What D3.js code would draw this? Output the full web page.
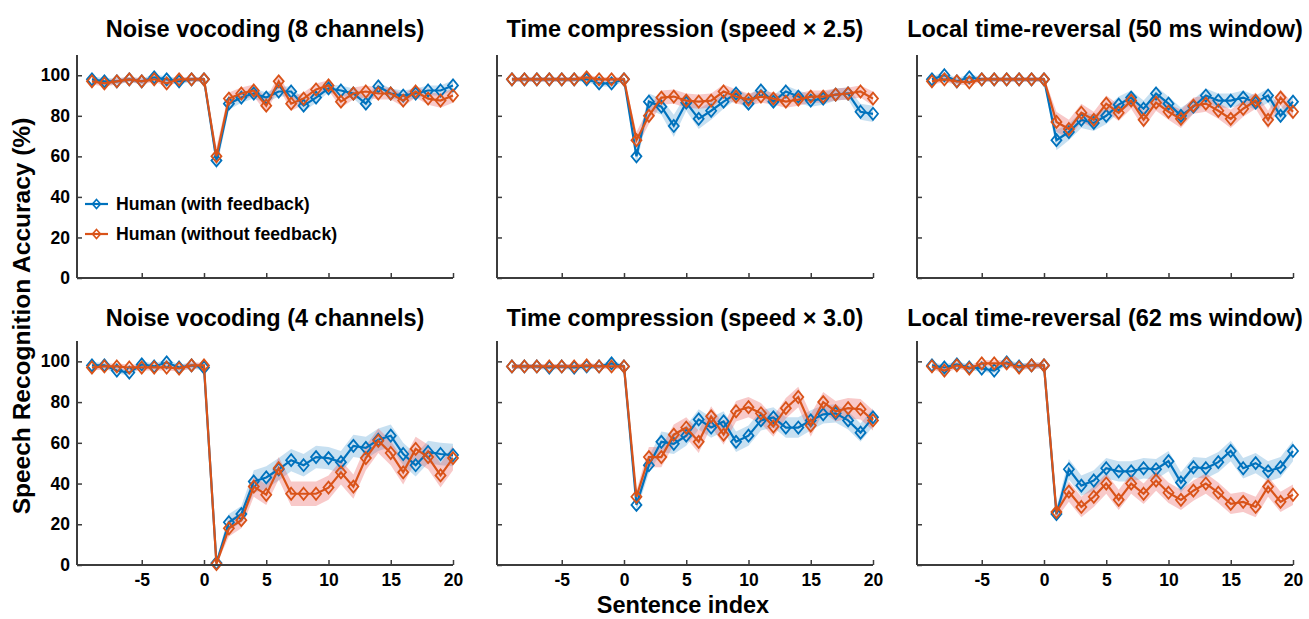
<!DOCTYPE html>
<html>
<head>
<meta charset="utf-8">
<script src="https://cdn.jsdelivr.net/npm/d3@7"></script>
<style>
  body { margin: 0; background: #fff; }
  text { font-family: "Liberation Sans", Arial, sans-serif; font-weight: bold; fill: #000; }
</style>
</head>
<body>
<svg id="chart" width="1309" height="619"></svg>
<script>
// sentence index (x)
var sentenceIdx = [-9,-8,-7,-6,-5,-4,-3,-2,-1,0,1,2,3,4,5,6,7,8,9,10,11,12,13,14,15,16,17,18,19,20];
var xTicks = [-5, 0, 5, 10, 15, 20];
var yTicks = [0, 20, 40, 60, 80, 100];
var titles = [
    "Noise vocoding (8 channels)", "Time compression (speed \u00d7 2.5)", "Local time-reversal (50 ms window)",
    "Noise vocoding (4 channels)", "Time compression (speed \u00d7 3.0)", "Local time-reversal (62 ms window)"
];
var seriesNames = ["Human (with feedback)", "Human (without feedback)"];

// Noise vocoding (8 channels)
var nv8With = [98,97,97,98,97,99,98,97,98,98, 58,86,89,91,89,92,92,85,89,93.5,92.5,91,86,94.5,91,90,91,92.5,92.5,95];
var nv8Without = [97,96,97,98,97,98,96,98,98,98, 60,88.5,91,92.5,85,97,86,88.5,93,95,87,91,92,91,91,87.5,92,88.5,87.5,90];
var nv8WithErr = [1.5,1.5,1.5,1.2,1.5,1.2,1.5,1.5,1.2,1.2, 4.5,3,2.5,2.5,2.5,2.5,2.5,3,2.5,2,2.5,2.5,3,2,2.5,2.5,2.5,2.5,2.5,2.5];
var nv8WithoutErr = [1.5,1.5,1.5,1.2,1.5,1.2,1.5,1.2,1.2,1.2, 4.5,3,3,3,3.5,3,3.5,3,3,2.5,3,3,3,3,3,3,3,3,3.5,3.5];

// Time compression (speed x 2.5)
var tc25With = [98,98,98,98,98,98,98,96,96,98, 60,87,84.5,75,86.5,78.5,82.5,87,91,86,92.5,87,92,89.5,87.5,88.5,90.5,91,82,81];
var tc25Without = [98,98,98,98,98,98,99,98,98,98, 68,80,89,89.5,87.5,87,87.5,92,89.5,88,89.5,88.5,87,88,89.5,89.5,90.5,91,92,88.5];
var tc25WithErr = [1.2,1.2,1.2,1.2,1.2,1.2,1.2,1.5,1.5,1.2, 4,4,4,5.5,4,5,4.5,3.5,3,3.5,3,3,3,3,3,3,3,3,4,4];
var tc25WithoutErr = [1.2,1.2,1.2,1.2,1.2,1.2,1.2,1.2,1.2,1.2, 4,4,3.5,3.5,3.5,3.5,3.5,3.5,3.5,3,3,3,3,3,3,3,3,3,3,3.5];

// Local time-reversal (50 ms window)
var tr50With = [98,100,97,99,98,98,98,98,98,98, 68,72,78,76.5,80,85.5,89,83.5,91,86,80,84.5,90,87.5,87.5,89,86.5,90,80,87];
var tr50Without = [97,98,97,96.5,98,98,98,98,98,98, 77,73.5,81.5,78,86,81.5,87.5,78,86.5,82,78.5,85,86,82.5,78.5,83.5,87.5,78,89,82];
var tr50WithErr = [1.5,1.5,1.5,1.5,1.2,1.2,1.2,1.2,1.2,1.2, 5,4,4,4,4,4,3.5,4,3.5,3.5,4,3.5,3.5,3.5,3.5,3.5,3.5,3.5,3.5,3.5];
var tr50WithoutErr = [1.5,1.5,1.5,1.5,1.2,1.2,1.2,1.2,1.2,1.2, 5,4.5,4.5,4,4,4,4,4,4,4,4.5,4,4,4,4.5,4,4,4.5,4,4];

// Noise vocoding (4 channels)
var nv4With = [98,98,95.5,94.5,98.5,97.5,99.5,97,98,97, 1,21,25,41,43,47,51.5,49,53,52.5,50.5,58.5,57.5,61.5,63.5,54.5,49,55.5,54.5,54];
var nv4Without = [97,97.5,97.5,97,97,97,97,96.5,98,98, 0.5,18,22,38.5,34.5,47.5,35,35,35,38,45.5,38.5,52.5,61,55,45.5,57,53,44,52.5];
var nv4WithErr = [1.5,1.5,1.5,1.5,1.5,1.5,1.5,1.5,1.5,1.5, 1.5,4,4,5.5,5.5,5.5,5.5,5.5,5.5,5.5,5.5,5.5,5.5,5.5,5.5,5.5,5.5,5.5,5.5,5.5];
var nv4WithoutErr = [1.5,1.5,1.5,1.5,1.5,1.5,1.5,1.5,1.5,1.5, 1.5,4,4,5,5,5.5,6,6,6,6,6,6,6,6,6,6,6,6,6,6];

// Time compression (speed x 3.0)
var tc30With = [97.5,97.5,97.5,97,97.5,97,97.5,97.5,99,97.5, 29.5,49,60.5,59.5,63.5,71.5,67.5,70.5,60.5,63.5,71,72.5,67.5,67.5,71,74,74.5,71,65,72.5];
var tc30Without = [97.5,97.5,97.5,97.5,97.5,97.5,98,97.5,97.5,97.5, 33.5,53,53,64,67.5,60.5,73,64,75.5,77.5,74.5,68,77,82.5,68.5,80,75.5,77,76.5,71];
var tc30WithErr = [1.2,1.2,1.2,1.2,1.2,1.2,1.2,1.2,1.2,1.2, 3,4,5,5,5,5,5,5,5,5,5,5,5,5,5,4.5,4.5,4.5,4.5,4.5];
var tc30WithoutErr = [1.2,1.2,1.2,1.2,1.2,1.2,1.2,1.2,1.2,1.2, 3,5,5,5,5,5.5,5,5,5,5,5,5,5,5,5.5,5,5,5,5,5];

// Local time-reversal (62 ms window)
var tr62With = [98,97,98.5,97,96.5,95.5,99.5,97.5,98,98, 25,47,39,41.5,47.5,46,46,47.5,47,51,40.5,48,47.5,50.5,56,47.5,50,46,48,56];
var tr62Without = [97.5,95.5,98,96.5,99,99,99,97,98,98, 26,36,28.5,33.5,40,32,40,35,41.5,35.5,32,36.5,40,35.5,30,31,28.5,38.5,31,34.5];
var tr62WithErr = [1.5,1.5,1.5,1.5,1.5,1.5,1.5,1.5,1.5,1.5, 3,5,5,5,5,5,5,5,5,5,5,5,5,5,5,5,5,5,5,5];
var tr62WithoutErr = [1.5,1.5,1.5,1.5,1.5,1.5,1.5,1.5,1.5,1.5, 3,5,5,5,5,5,5,5,5,5,5,5,5,5,5,5,5,5,5,5];

var panels = [
    { title: titles[0], w: nv8With, wo: nv8Without, we: nv8WithErr, woe: nv8WithoutErr },
    { title: titles[1], w: tc25With, wo: tc25Without, we: tc25WithErr, woe: tc25WithoutErr },
    { title: titles[2], w: tr50With, wo: tr50Without, we: tr50WithErr, woe: tr50WithoutErr },
    { title: titles[3], w: nv4With, wo: nv4Without, we: nv4WithErr, woe: nv4WithoutErr },
    { title: titles[4], w: tc30With, wo: tc30Without, we: tc30WithErr, woe: tc30WithoutErr },
    { title: titles[5], w: tr62With, wo: tr62Without, we: tr62WithErr, woe: tr62WithoutErr }
];

var blue = "#0072BD", orange = "#D95319";
var bandFill = ["rgb(0,114,189)", "rgb(235,90,90)"];
var bandOpacity = [0.22, 0.33];
var axisColor = "#3c3c3c";

var colLeft = [77, 497, 917];
var plotW = 376;
var rowTop = [55, 341];
var rowBottom = [278, 565];

var svg = d3.select("#chart");

// MATLAB-like diamond (rotated square, slightly tall)
function diamondPath(rx, ry) {
    return "M0," + (-ry) + "L" + rx + ",0L0," + ry + "L" + (-rx) + ",0Z";
}

panels.forEach(function(p, i) {
    var col = i % 3, row = Math.floor(i / 3);
    var x = d3.scaleLinear().domain([-10.2, 20]).range([colLeft[col], colLeft[col] + plotW]);
    var y = d3.scaleLinear().domain([0, 110]).range([rowBottom[row], rowTop[row]]);
    var g = svg.append("g").attr("class", "panel");

    var sets = [
        { v: p.w, e: p.we, color: blue },
        { v: p.wo, e: p.woe, color: orange }
    ];

    // shaded error bands
    sets.forEach(function(s, k) {
        var area = d3.area()
            .x(function(d, j) { return x(sentenceIdx[j]); })
            .y0(function(d, j) { return y(Math.max(0, d - s.e[j])); })
            .y1(function(d, j) { return y(d + s.e[j]); });
        g.append("path")
            .attr("d", area(s.v))
            .attr("fill", bandFill[k])
            .attr("fill-opacity", bandOpacity[k])
            .attr("stroke", "none");
    });

    // lines + diamond markers
    sets.forEach(function(s) {
        var line = d3.line()
            .x(function(d, j) { return x(sentenceIdx[j]); })
            .y(function(d) { return y(d); });
        g.append("path")
            .attr("d", line(s.v))
            .attr("fill", "none")
            .attr("stroke", s.color)
            .attr("stroke-width", 2.2);
        g.selectAll(null)
            .data(s.v)
            .enter().append("path")
            .attr("d", diamondPath(5, 6))
            .attr("transform", function(d, j) { return "translate(" + x(sentenceIdx[j]) + "," + y(d) + ")"; })
            .attr("fill", "none")
            .attr("stroke", s.color)
            .attr("stroke-width", 1.8);
    });

    // axes (MATLAB-style, inward ticks)
    var fmt = function(d) { return String(d); };
    var xAxis = d3.axisBottom(x).tickValues(xTicks).tickFormat(fmt).tickSizeInner(-5).tickSizeOuter(0).tickPadding(9);
    var yAxis = d3.axisLeft(y).tickValues(yTicks).tickFormat(fmt).tickSizeInner(-5).tickSizeOuter(0).tickPadding(7);

    var gx = g.append("g").attr("transform", "translate(0," + rowBottom[row] + ")").call(xAxis);
    var gy = g.append("g").attr("transform", "translate(" + colLeft[col] + ",0)").call(yAxis);
    [gx, gy].forEach(function(ax) {
        ax.select(".domain").attr("stroke", axisColor).attr("stroke-width", 2);
        ax.selectAll(".tick line").attr("stroke", axisColor).attr("stroke-width", 1.5);
        ax.selectAll("text").attr("font-size", 17.5).attr("fill", "#000")
            .attr("font-family", "'Liberation Sans', Arial, sans-serif").attr("font-weight", "bold");
    });
    gy.select(".domain").attr("d", "M0," + rowBottom[row] + "V" + rowTop[row]);
    gx.select(".domain").attr("d", "M" + colLeft[col] + ",0H" + (colLeft[col] + plotW));
    if (row === 0) gx.selectAll(".tick text").remove();
    if (col > 0) gy.selectAll(".tick text").remove();

    g.append("text")
        .attr("x", colLeft[col] + plotW / 2)
        .attr("y", row === 0 ? 36.5 : 325.5)
        .attr("text-anchor", "middle")
        .attr("font-size", 23.5)
        .text(p.title);
});

// legend in first panel
var legend = svg.append("g").attr("class", "legend");
[blue, orange].forEach(function(c, k) {
    var ly = 204 + k * 30;
    legend.append("line").attr("x1", 85).attr("x2", 108).attr("y1", ly).attr("y2", ly)
        .attr("stroke", c).attr("stroke-width", 2.2);
    legend.append("path").attr("d", diamondPath(4, 4.5))
        .attr("transform", "translate(96.5," + ly + ")")
        .attr("fill", "none").attr("stroke", c).attr("stroke-width", 1.6);
    legend.append("text").attr("x", 116).attr("y", ly).attr("dy", "0.35em")
        .attr("font-size", 17.7).text(seriesNames[k]);
});

// axis labels
svg.append("text")
    .attr("transform", "translate(30,316) rotate(-90)")
    .attr("text-anchor", "middle")
    .attr("font-size", 24.5)
    .text("Speech Recognition Accuracy (%)");
svg.append("text")
    .attr("x", 683).attr("y", 613)
    .attr("text-anchor", "middle")
    .attr("font-size", 23.5)
    .text("Sentence index");
</script>
</body>
</html>
